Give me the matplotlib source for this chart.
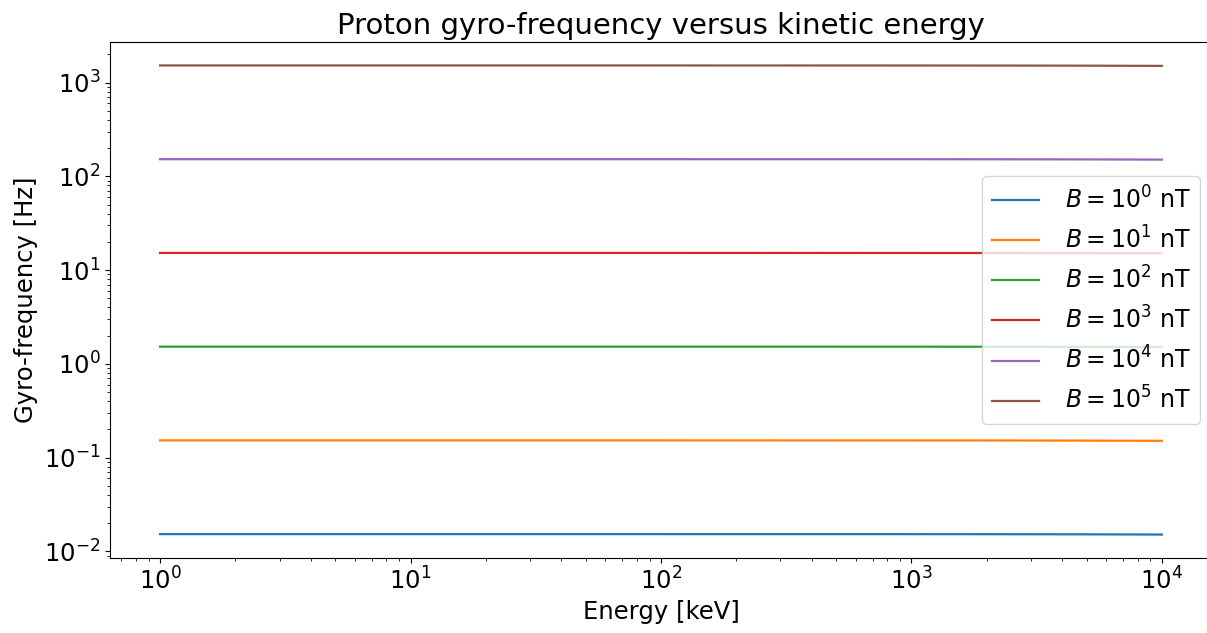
import numpy as np
import matplotlib.pyplot as plt

# kinetic energy [keV]
energy = [1, 10, 100, 1000, 2000, 5000, 10000]

# gyro-frequency [Hz] for each field strength
f_B1e0 = [0.015245, 0.015245, 0.015243, 0.015229, 0.015213, 0.015164, 0.015084]
f_B1e1 = [0.15245, 0.15245, 0.15243, 0.15229, 0.15213, 0.15164, 0.15084]
f_B1e2 = [1.5245, 1.5245, 1.5243, 1.5229, 1.5213, 1.5164, 1.5084]
f_B1e3 = [15.245, 15.245, 15.243, 15.229, 15.213, 15.164, 15.084]
f_B1e4 = [152.45, 152.45, 152.43, 152.29, 152.13, 151.64, 150.84]
f_B1e5 = [1524.5, 1524.5, 1524.3, 1522.9, 1521.3, 1516.4, 1508.4]

series = [f_B1e0, f_B1e1, f_B1e2, f_B1e3, f_B1e4, f_B1e5]
labels = [r"$B = 10^{%d}$ nT" % i for i in range(6)]

fig = plt.figure(figsize=(12.07, 6.33), dpi=100)
ax = fig.add_axes([110/1207, 1 - 558/633, 1102/1207, 516/633])

for f, lab in zip(series, labels):
    ax.plot(energy, f, label=lab, lw=1.6)

ax.set_xscale("log")
ax.set_yscale("log")
ax.set_title("Proton gyro-frequency versus kinetic energy", fontsize=21)
ax.set_xlabel("Energy [keV]", fontsize=17.5)
ax.set_ylabel("Gyro-frequency [Hz]", fontsize=17.5)
ax.tick_params(labelsize=17.5)
ax.legend(loc="center right", fontsize=17, handletextpad=1.1,
          labelspacing=0.55)

fig.savefig("out.png", dpi=100)
